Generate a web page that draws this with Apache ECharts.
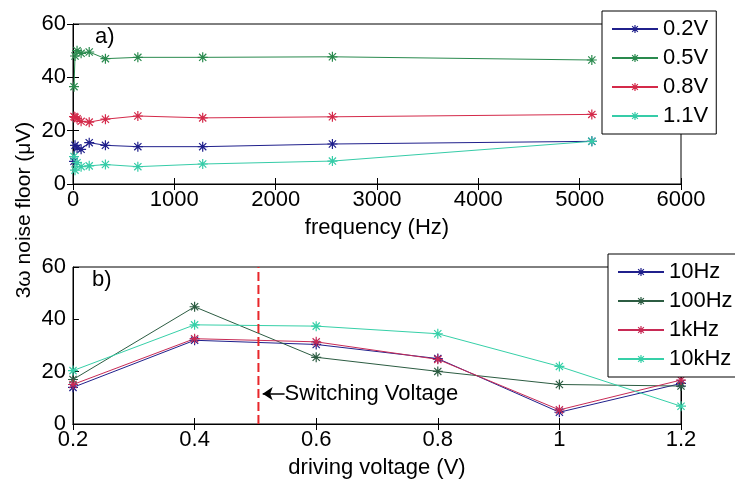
<!DOCTYPE html>
<html>
<head>
<meta charset="utf-8">
<script src="https://cdn.jsdelivr.net/npm/echarts@6/dist/echarts.min.js"></script>
<style>html,body{margin:0;padding:0;background:#fff}#c{width:735px;height:480px}</style>
</head>
<body>
<div id="c"></div>
<script>
// ---- data ----
var freq = [10, 20, 40, 80, 160, 320, 640, 1280, 2560, 5120];
var topNames = ['0.2V', '0.5V', '0.8V', '1.1V'];
var v02 = [8.5, 14.5, 13.5, 13, 15.5, 14.5, 14, 14, 15, 16];
var v05 = [36.5, 48, 50, 49, 49.5, 47, 47.5, 47.5, 47.7, 46.5];
var v08 = [25.3, 25, 24.5, 23.5, 23.2, 24.3, 25.5, 24.8, 25.2, 26.1];
var v11 = [10.3, 5.2, 8, 6.5, 6.8, 7.3, 6.5, 7.5, 8.6, 16];

var volt = [0.2, 0.4, 0.6, 0.8, 1.0, 1.2];
var botNames = ['10Hz', '100Hz', '1kHz', '10kHz'];
var b10 = [14, 32, 30.4, 25, 4.5, 15.5];
var b100 = [17, 44.8, 25.5, 20.1, 15.1, 14.5];
var b1k = [15.1, 32.6, 31.4, 24.7, 5.4, 16.8];
var b10k = [20.4, 37.9, 37.4, 34.5, 22, 6.8];

var switchV = 0.505;
var yTicks = [0, 20, 40, 60];

// ---- chart ----
var FONT = 'Liberation Sans, Arial, sans-serif';
var FS = 22;
var star = 'path://M0,-5L0,5M-5,0L5,0M-3.6,-3.6L3.6,3.6M-3.6,3.6L3.6,-3.6';
var topColors = ['#20208c', '#2a8a4e', '#d42a4a', '#36cca8'];
var botColors = ['#20208c', '#2c5c42', '#c82a55', '#36d0a8'];

function pairs(xs, ys) { return xs.map(function (x, i) { return [x, ys[i]]; }); }

function mkSeries(name, xs, ys, color, xi, yi) {
  return {
    name: name, type: 'line', xAxisIndex: xi, yAxisIndex: yi,
    data: pairs(xs, ys),
    symbol: star, symbolSize: 10,
    lineStyle: { color: color, width: 1 },
    itemStyle: { color: color, borderColor: color, borderWidth: 1.2 },
    emphasis: { disabled: true },
    animation: false
  };
}

var axisLine = { show: true, lineStyle: { color: '#000', width: 1 } };
var tickIn = { show: true, inside: true, length: 6, lineStyle: { color: '#000' } };
var lbl = { color: '#000', fontSize: FS, fontFamily: FONT };

function xAx(grid, min, max, interval, name, fmt) {
  return [{
    type: 'value', gridIndex: grid, min: min, max: max, interval: interval,
    position: 'bottom', axisLine: axisLine, axisTick: tickIn, splitLine: { show: false },
    axisLabel: Object.assign({ margin: 5, formatter: fmt }, lbl),
    name: name, nameLocation: 'middle', nameGap: 33,
    nameTextStyle: { color: '#000', fontSize: FS, fontFamily: FONT }
  }, {
    type: 'value', gridIndex: grid, min: min, max: max, interval: interval,
    position: 'top', axisLine: axisLine, axisTick: tickIn, splitLine: { show: false },
    axisLabel: { show: false }
  }];
}
function yAx(grid) {
  return [{
    type: 'value', gridIndex: grid, min: yTicks[0], max: yTicks[yTicks.length - 1], interval: 20,
    position: 'left', axisLine: axisLine, axisTick: tickIn, splitLine: { show: false },
    axisLabel: Object.assign({ margin: 7 }, lbl)
  }, {
    type: 'value', gridIndex: grid, min: yTicks[0], max: yTicks[yTicks.length - 1], interval: 20,
    position: 'right', axisLine: axisLine, axisTick: tickIn, splitLine: { show: false },
    axisLabel: { show: false }
  }];
}

var series = [
  mkSeries(topNames[0], freq, v02, topColors[0], 0, 0),
  mkSeries(topNames[1], freq, v05, topColors[1], 0, 0),
  mkSeries(topNames[2], freq, v08, topColors[2], 0, 0),
  mkSeries(topNames[3], freq, v11, topColors[3], 0, 0),
  mkSeries(botNames[0], volt, b10, botColors[0], 2, 2),
  mkSeries(botNames[1], volt, b100, botColors[1], 2, 2),
  mkSeries(botNames[2], volt, b1k, botColors[2], 2, 2),
  mkSeries(botNames[3], volt, b10k, botColors[3], 2, 2),
  {
    type: 'line', xAxisIndex: 2, yAxisIndex: 2, symbol: 'none',
    data: [[switchV, 0], [switchV, 60]],
    lineStyle: { color: '#e8262a', width: 2, type: [9, 4] },
    animation: false, silent: true,
    markLine: {
      silent: true, animation: false,
      symbol: ['none', 'arrow'], symbolSize: [10, 10],
      lineStyle: { color: '#000', width: 1.5, type: 'solid' },
      label: { show: false },
      data: [[{ coord: [0.548, 11.6] }, { coord: [0.512, 11.6] }]]
    },
    markPoint: {
      symbol: 'circle', symbolSize: 0, silent: true, animation: false,
      label: {
        show: true, position: 'right', distance: 0, color: '#000',
        fontSize: FS, fontFamily: FONT, formatter: 'Switching Voltage'
      },
      data: [{ coord: [0.548, 11.6] }]
    }
  }
];

var legendCommon = {
  orient: 'vertical', itemWidth: 46, itemHeight: 10, itemGap: 7,
  borderColor: '#000', borderWidth: 1, backgroundColor: '#fff', borderRadius: 0,
  textStyle: { color: '#000', fontSize: FS, fontFamily: FONT },
  itemStyle: { borderWidth: 1.2 }
};

var option = {
  backgroundColor: '#fff',
  animation: false,
  grid: [
    { left: 73, top: 24, width: 608, height: 160, show: true, borderColor: '#000', borderWidth: 1, backgroundColor: 'transparent' },
    { left: 73, top: 267, width: 608, height: 160, show: true, borderColor: '#000', borderWidth: 1, backgroundColor: 'transparent' }
  ],
  xAxis: xAx(0, 0, 6000, 1000, 'frequency (Hz)', function (v) { return String(v); })
    .concat(xAx(1, 0.2, 1.2, 0.2, 'driving voltage (V)', function (v) { return String(+v.toFixed(1)); })),
  yAxis: yAx(0).concat(yAx(1)),
  legend: [
    Object.assign({ data: topNames, left: 602, top: 11, padding: [7, 8, 7, 9] }, legendCommon),
    Object.assign({ data: botNames, left: 608, top: 254, padding: [7, 8, 7, 9] }, legendCommon)
  ],
  graphic: [
    { type: 'text', left: 95, top: 26, style: { text: 'a)', fontSize: FS, fontFamily: FONT, fill: '#000' } },
    { type: 'text', left: 92, top: 269, style: { text: 'b)', fontSize: FS, fontFamily: FONT, fill: '#000' } },
    { type: 'text', x: 24, y: 210, rotation: Math.PI / 2,
      style: { text: '3\u03c9 noise floor (\u03bcV)', fontSize: 21, fontFamily: FONT, fill: '#000', align: 'center', verticalAlign: 'middle' } }
  ],
  series: series
};

var chart = echarts.init(document.getElementById('c'), null, { renderer: 'canvas' });
chart.setOption(option);
</script>
</body>
</html>
